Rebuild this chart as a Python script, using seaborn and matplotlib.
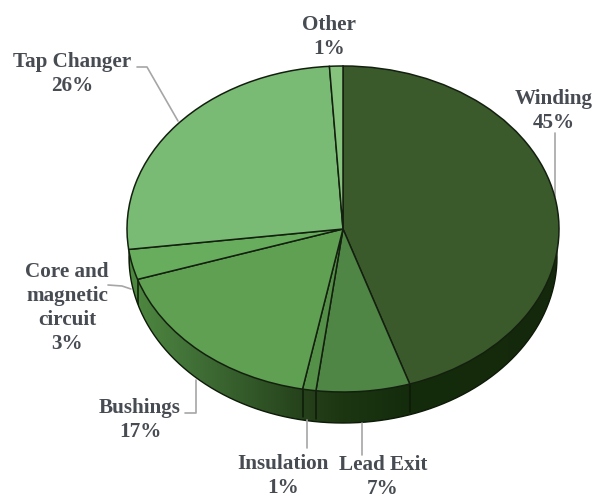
import seaborn as sns
import matplotlib.pyplot as plt
import numpy as np
from matplotlib.colors import LinearSegmentedColormap
from matplotlib.patches import PathPatch
from matplotlib.path import Path

# ----------------------------
# Data
# ----------------------------
components = ["Winding", "Lead Exit", "Insulation", "Bushings", "Core and\nmagnetic\ncircuit", "Tap Changer", "Other"]
shares = [45, 7, 1, 17, 3, 26, 1]
face_colors = ["#3b5a2c", "#4f8545", "#559048", "#5fa052", "#68ad5d", "#79bb74", "#86c47e"]
label_centers = [(554, 111), (383, 477), (283, 476), (140, 420), (67, 308), (72, 74), (329, 37)]

# ----------------------------
# Geometry (pixel frame of the picture)
# ----------------------------
W, H = 594, 498
CX, CY, RX, RY, DEPTH = 343, 229, 216, 163, 28
LOW_CX, LOW_RX, LOW_RY = 343, 214, 166  # rim of the underside, a little narrower


def ux(x):
    return (x - CX) / RX


def uy(y):
    return (CY - y) / RY


sns.set_style("white")
plt.rcParams["font.family"] = ["Liberation Serif", "DejaVu Serif"]

fig = plt.figure(figsize=(W / 100, H / 100), dpi=100)
ax = fig.add_axes([0, 0, 1, 1])

# side wall of the disc, shaded left to right
side_cmap = LinearSegmentedColormap.from_list(
    "side",
    [(0.0, "#4f8a40"), (0.12, "#44763a"), (0.42, "#243f1a"), (0.5, "#1c3612"), (0.65, "#142c0c"), (1.0, "#15290b")],
)
side = ax.imshow(
    np.linspace(0, 1, 256).reshape(1, -1),
    extent=(-1, 1, -1 - 2 * DEPTH / RY, 1),
    aspect="auto",
    cmap=side_cmap,
    zorder=1,
)
t = np.linspace(0, 2 * np.pi, 361)
underside = np.column_stack([ux(LOW_CX + LOW_RX * np.cos(t)), uy(CY + DEPTH - LOW_RY * np.sin(t))])
outline = PathPatch(Path(underside), facecolor="none", edgecolor="#0d1a08", linewidth=1.0, zorder=2)
ax.add_patch(outline)
side.set_clip_path(outline)

# top face
ax.pie(
    shares,
    colors=face_colors,
    startangle=90,
    counterclock=False,
    radius=1,
    wedgeprops={"edgecolor": "#14200f", "linewidth": 1.1, "zorder": 3},
)
ax.set_aspect("auto")
ax.set_xlim(ux(0), ux(W))
ax.set_ylim(uy(H), uy(0))
ax.axis("off")

# slice edges running down the visible side wall
for frac in np.cumsum(shares)[:-1] / 100:
    ang = 2 * np.pi * frac
    if np.cos(ang) < 0:
        edge, = ax.plot([np.sin(ang)] * 2, [np.cos(ang), np.cos(ang) - DEPTH / RY], color="#0d1a08", lw=1.1, zorder=2.5)
        edge.set_clip_path(outline)

# ----------------------------
# Labels and leader lines
# ----------------------------
leaders = [
    [(555, 133), (555, 197)],
    [(362, 423), (362, 455)],
    [(307, 420), (307, 448)],
    [(185, 413), (196, 413), (196, 380)],
    [(108, 285), (122, 286), (131, 289)],
    [(137, 67), (147, 67), (178, 121)],
]
for pts in leaders:
    xs, ys = zip(*pts)
    ax.plot(ux(np.array(xs)), uy(np.array(ys)), color="#a6a6a6", lw=1.2, zorder=2, clip_on=False)

for name, share, (lx, ly) in zip(components, shares, label_centers):
    ax.text(
        ux(lx), uy(ly), f"{name}\n{share}%",
        ha="center", va="center", ma="center",
        fontsize=15.2, fontweight="bold", color="#474b52", linespacing=1.28,
    )

plt.savefig("out.png", dpi=100)
plt.close()
